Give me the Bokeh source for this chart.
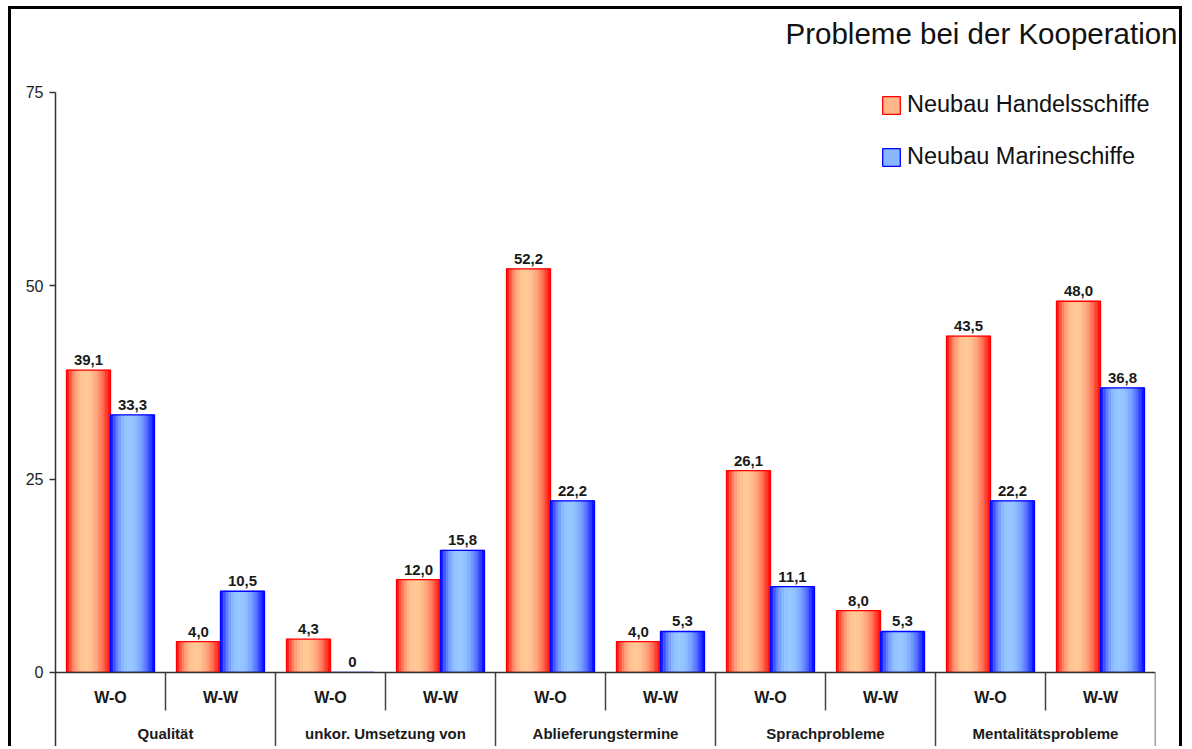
from bokeh.plotting import figure
from bokeh.models import (ColumnDataSource, FactorRange, Range1d, FixedTicker, Span,
                          Legend, LegendItem)
from bokeh.transform import dodge
from bokeh.core.properties import value
from bokeh.embed import file_html
from bokeh.resources import INLINE

# ---------------- data ----------------
title_text = "Probleme bei der Kooperation"
categories = ["Qualität", "unkor. Umsetzung von", "Ablieferungstermine",
              "Sprachprobleme", "Mentalitätsprobleme"]
subgroups = ["W-O", "W-W"]
series_names = ["Neubau Handelsschiffe", "Neubau Marineschiffe"]
handel = [39.1, 4.0, 4.3, 12.0, 52.2, 4.0, 26.1, 8.0, 43.5, 48.0]
marine = [33.3, 10.5, 0.0, 15.8, 22.2, 5.3, 11.1, 5.3, 22.2, 36.8]
y_ticks = [0, 25, 50, 75]

# ---------------- helpers ----------------
FONT = "Liberation Sans"
factors = [(c, s) for c in categories for s in subgroups]


def fmt(v):
    return "0" if v == 0 else f"{v:.1f}".replace(".", ",")


def mix(a, b, w):
    r, g, bl = (round(a[i] * (1 - w) + b[i] * w) for i in range(3))
    return f"#{r:02x}{g:02x}{bl:02x}"


Y_MIN, Y_MAX = -9.96, 79.78
W, H = 1174, 740

p = figure(width=W, height=H,
           x_range=FactorRange(*factors, factor_padding=0, group_padding=0,
                               subgroup_padding=0, range_padding=0),
           y_range=Range1d(Y_MIN, Y_MAX),
           output_backend="svg", toolbar_location=None, x_axis_location=None,
           min_border_left=44, min_border_right=30, min_border_top=46,
           min_border_bottom=0)
p.styles = {"margin-left": "8px", "margin-top": "6px",
            "border-left": "3px solid black", "border-top": "3px solid black",
            "border-right": "3px solid black"}
p.background_fill_color = "white"
p.border_fill_color = "white"
p.outline_line_color = None
p.xgrid.visible = False
p.ygrid.visible = False

# title
p.title.text = title_text
p.title.align = "right"
p.title.text_font = FONT
p.title.text_font_size = "29.5px"
p.title.text_font_style = "normal"
p.title.text_color = "#111111"
p.title.offset = -22
p.title.standoff = 11

# y axis
ax = p.yaxis[0]
ax.ticker = FixedTicker(ticks=y_ticks)
ax.bounds = (Y_MIN, y_ticks[-1])
ax.minor_tick_line_color = None
ax.major_tick_in = 0
ax.major_tick_out = 6
ax.axis_line_color = "#333333"
ax.axis_line_width = 1.5
ax.major_tick_line_color = "#333333"
ax.major_tick_line_width = 1.5
ax.major_label_text_font = FONT
ax.major_label_text_font_size = "16px"
ax.major_label_text_color = "#222222"
ax.major_label_standoff = 6

src = ColumnDataSource(dict(x=factors, h=handel, m=marine,
                            hl=[fmt(v) for v in handel],
                            ml=[fmt(v) for v in marine]))

# gradient bars (sliced)
N = 16
edges = [(255, 0, 0), (0, 0, 255)]
lights = [(255, 200, 150), (150, 200, 255)]
edge_hex = ["#ff0000", "#0000ff"]
legend_fill = []
outlines = []
BW = 0.4
for s, (col, off) in enumerate([("h", -0.2), ("m", 0.2)]):
    mid_r = None
    for k in range(N):
        t = (k + 0.5) / N
        peak = 0.42
        d = (t - peak) / peak if t < peak else (t - peak) / (1 - peak)
        w = max(0.0, 1 - abs(d) ** 2.2)
        c = mix(edges[s], lights[s], w)
        r = p.vbar(x=dodge("x", off - BW / 2 + (k + 0.5) * BW / N, range=p.x_range),
                   top=col, bottom=0, width=BW / N, source=src,
                   fill_color=c, line_color=c, line_width=0.6)
        if k == 4:
            mid_r = r
    legend_fill.append(mid_r)
    o = p.vbar(x=dodge("x", off, range=p.x_range), top=col, bottom=0, width=BW,
               source=src, fill_color=None, line_color=edge_hex[s], line_width=1.3)
    outlines.append(o)

# value labels
for col, lab, off in [("h", "hl", -0.2), ("m", "ml", 0.2)]:
    p.text(x=dodge("x", off, range=p.x_range), y=col, text=lab, source=src,
           text_align="center", text_baseline="bottom", y_offset=-5,
           text_font=value(FONT), text_font_size="15px", text_font_style="bold",
           text_color="#1a1a1a")

# x "axis" line at zero
p.add_layout(Span(location=0, dimension="width", line_color="#333333", line_width=1.5))

# category table
cat_edges = [(c, "W-O", -0.5) for c in categories[1:]] + [(categories[-1], "W-W", 0.5)]
p.segment(x0=cat_edges, y0=[0] * len(cat_edges), x1=cat_edges,
          y1=[Y_MIN] * len(cat_edges), line_color="#444444", line_width=1.5)
sub_edges = [(c, "W-W", -0.5) for c in categories]
p.segment(x0=sub_edges, y0=[0] * len(sub_edges), x1=sub_edges,
          y1=[-4.91] * len(sub_edges), line_color="#444444", line_width=1.5)

p.text(x=factors, y=[-3.3] * len(factors), text=[s for _, s in factors],
       text_align="center", text_baseline="middle", text_font=value(FONT),
       text_font_size="16px", text_font_style="bold", text_color="#1a1a1a")
p.text(x=[(c, "W-W", -0.5) for c in categories], y=[-7.89] * len(categories),
       text=categories, text_align="center", text_baseline="middle",
       text_font=value(FONT), text_font_size="15px", text_font_style="bold",
       text_color="#1a1a1a")

# legend
legend = Legend(items=[LegendItem(label=series_names[i],
                                  renderers=[legend_fill[i], outlines[i]])
                       for i in range(2)],
                location=(825, 579), orientation="vertical")
legend.border_line_color = None
legend.background_fill_alpha = 0
legend.label_text_font = FONT
legend.label_text_font_size = "23.5px"
legend.label_text_color = "#111111"
legend.label_width = 244
legend.glyph_width = 22
legend.glyph_height = 22
legend.label_standoff = 5
legend.spacing = 25
legend.padding = 4
legend.margin = 0
p.add_layout(legend)

open("out.html", "w").write(file_html(p, INLINE))
